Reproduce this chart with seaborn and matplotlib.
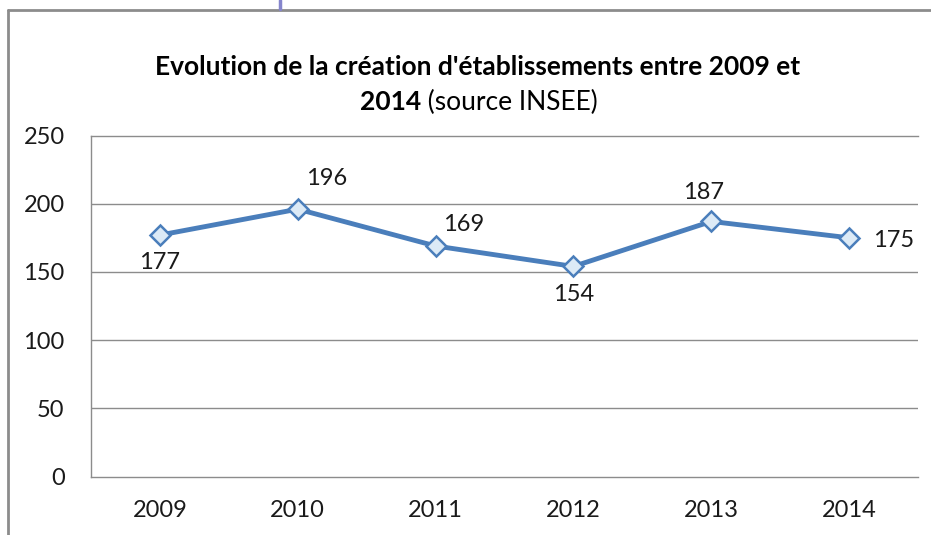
import matplotlib
matplotlib.use("Agg")
import matplotlib.pyplot as plt
from matplotlib.lines import Line2D
import seaborn as sns
import pandas as pd

# Series: new establishments per year (INSEE)
years = [2009, 2010, 2011, 2012, 2013, 2014]
creations = [177, 196, 169, 154, 187, 175]
y_ticks = [0, 50, 100, 150, 200, 250]

# Data-label placement around each point, in pixels (dx, dy)
label_offsets = [(0, -27), (29, 31), (28, 21), (0, -28), (-8, 29), (44, -3)]

title_line1 = "Evolution de la création d'établissements entre 2009 et"
title_line2_bold = "2014"
title_line2_rest = " (source INSEE)"

sns.set_theme(style="white")
plt.rcParams["font.family"] = ["Lato", "DejaVu Sans"]

W, H, DPI = 931, 535, 100
fig = plt.figure(figsize=(W / DPI, H / DPI), dpi=DPI)
fig.patch.set_facecolor("white")

ax = fig.add_axes([91 / W, 1 - 476.5 / H, (918 - 91) / W, (476.5 - 135.5) / H])

df = pd.DataFrame({"year": years, "value": creations})
blue = "#4A7EBB"
sns.lineplot(data=df, x="year", y="value", ax=ax, color=blue, linewidth=3.5,
             marker="D", markersize=10, markerfacecolor="#DCEAF6",
             markeredgecolor=blue, markeredgewidth=1.8, zorder=5, clip_on=False)

ax.set_xlim(years[0] - 0.5, years[-1] + 0.5)
ax.set_ylim(y_ticks[0], y_ticks[-1])
ax.set_xticks(years)
ax.set_xticklabels([str(y) for y in years])
ax.set_yticks(y_ticks)
ax.set_xlabel("")
ax.set_ylabel("")

grid_col = "#8C8C8C"
for v in y_ticks[1:-1]:
    ax.axhline(v, color=grid_col, linewidth=1.0, zorder=1)
for side in ["left", "bottom", "top"]:
    ax.spines[side].set_visible(True)
    ax.spines[side].set_color(grid_col)
    ax.spines[side].set_linewidth(1.0)
ax.spines["right"].set_visible(False)

fs = 17
ax.tick_params(axis="y", length=0, pad=19, labelsize=fs, labelcolor="#1a1a1a")
ax.tick_params(axis="x", length=0, pad=17, labelsize=fs, labelcolor="#1a1a1a")

for x, v, (dx, dy) in zip(years, creations, label_offsets):
    ax.annotate(str(v), xy=(x, v), xytext=(dx, dy), textcoords="offset pixels",
                ha="center", va="center", fontsize=fs, color="#1a1a1a", zorder=6)

# Title: first line bold, second line mixes bold year and regular source
tfs = 19
fig.text(478 / W, 1 - 67 / H, title_line1, ha="center", va="center",
         fontsize=tfs, fontweight="bold", color="#000000")
renderer = fig.canvas.get_renderer()
t_b = fig.text(0, 1 - 102 / H, title_line2_bold, ha="left", va="center",
               fontsize=tfs, fontweight="bold", color="#000000")
t_r = fig.text(0, 1 - 102 / H, title_line2_rest, ha="left", va="center",
               fontsize=tfs, color="#000000")
wb = t_b.get_window_extent(renderer).width
wr = t_r.get_window_extent(renderer).width
x0 = 479 - (wb + wr) / 2
t_b.set_x(x0 / W)
t_r.set_x((x0 + wb) / W)

# Chart frame and the connector stub above it
frame_col = "#8C8C8C"
fig.add_artist(Line2D([8 / W, 1.0], [1 - 10 / H, 1 - 10 / H], transform=fig.transFigure,
                      color=frame_col, linewidth=2.0))
fig.add_artist(Line2D([8 / W, 8 / W], [1 - 10 / H, 0.0], transform=fig.transFigure,
                      color=frame_col, linewidth=2.0))
fig.add_artist(Line2D([280 / W, 280 / W], [1.0, 1 - 9 / H], transform=fig.transFigure,
                      color="#8585CC", linewidth=2.5))

fig.savefig("out.png", dpi=DPI, facecolor="white")
